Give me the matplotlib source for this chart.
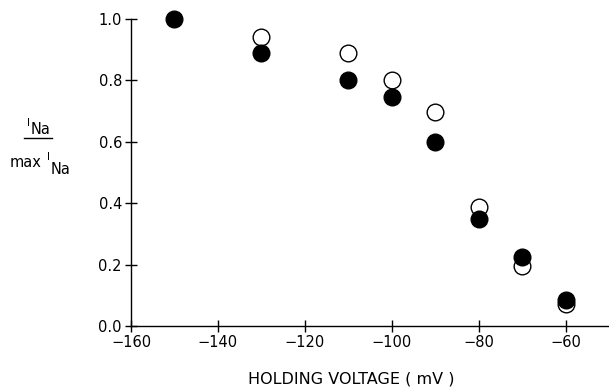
import matplotlib.pyplot as plt
from matplotlib.lines import Line2D

plt.rcParams['font.family'] = ['DejaVu Sans']

# holding voltage (mV)
v_filled = [-150, -130, -110, -100, -90, -80, -70, -60]
i_filled = [1.0, 0.888, 0.80, 0.747, 0.60, 0.35, 0.224, 0.085]

v_open = [-130, -110, -100, -90, -80, -70, -60]
i_open = [0.941, 0.89, 0.80, 0.698, 0.387, 0.196, 0.072]

x_ticks = [-160, -140, -120, -100, -80, -60]
y_ticks = [0.0, 0.2, 0.4, 0.6, 0.8, 1.0]

fig = plt.figure(figsize=(6.09, 3.91), dpi=100)
ax = fig.add_axes([131 / 609, 1 - 326 / 391, 1 - 131 / 609, (326 - 19) / 391])

ax.plot(v_open, i_open, 'o', ms=12, mfc='white', mec='black', mew=1.0,
        clip_on=False, zorder=3)
ax.plot(v_filled, i_filled, 'o', ms=12, mfc='black', mec='black', mew=1.0,
        clip_on=False, zorder=4)

ax.set_xlim(-160, -50)
ax.set_ylim(0, 1.0)
ax.set_xticks(x_ticks)
ax.set_xticklabels(['\u2212' + str(-t) for t in x_ticks])
ax.set_yticks(y_ticks)
ax.set_yticklabels(['%.1f' % t for t in y_ticks])

ax.spines['top'].set_visible(False)
ax.spines['right'].set_visible(False)
ax.spines['left'].set_linewidth(1.0)
ax.spines['bottom'].set_linewidth(1.0)
ax.tick_params(direction='inout', length=9, width=1.0, labelsize=10.5, pad=2)

fig.text(351 / 609, 1 - 379 / 391, 'HOLDING VOLTAGE ( mV )', ha='center',
         va='center', fontsize=11.5)

# y label drawn as a fraction: I_Na / max I_Na
fig.text(28 / 609, 1 - 123 / 391, 'I', ha='center', va='center', fontsize=7.5)
fig.text(31 / 609, 1 - 129 / 391, 'Na', ha='left', va='center', fontsize=10.5)
fig.add_artist(Line2D([24 / 609, 52 / 609], [1 - 138 / 391, 1 - 138 / 391],
                      color='black', lw=1.0, transform=fig.transFigure))
fig.text(10 / 609, 1 - 163 / 391, 'max', ha='left', va='center', fontsize=10.5)
fig.text(48 / 609, 1 - 157 / 391, 'I', ha='center', va='center', fontsize=7.5)
fig.text(51 / 609, 1 - 169 / 391, 'Na', ha='left', va='center', fontsize=10.5)

fig.savefig('out.png', dpi=100)
